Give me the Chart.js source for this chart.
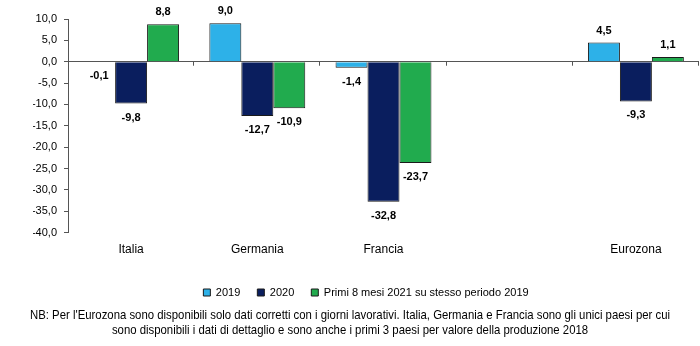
<!DOCTYPE html>
<html>
<head>
<meta charset="utf-8">
<script src="https://cdn.jsdelivr.net/npm/chart.js@4.4.0/dist/chart.umd.min.js"></script>
<style>
  html, body { margin: 0; padding: 0; background: #fff; }
  #wrap { width: 700px; height: 346px; }
</style>
</head>
<body>
<div id="wrap"><canvas id="chart"></canvas></div>
<script>
// categories (the empty slot keeps the gap before Eurozona)
const categories = ['Italia', 'Germania', 'Francia', '', 'Eurozona'];
const values2019 = [-0.1, 9.0, -1.4, null, 4.5];
const values2020 = [-9.8, -12.7, -32.8, null, -9.3];
const values2021 = [8.8, -10.9, -23.7, null, 1.1];
const seriesNames = ['2019', '2020', 'Primi 8 mesi 2021 su stesso periodo 2019'];
const yMin = -40, yMax = 10, yStep = 5;
const noteLines = [
  "NB: Per l'Eurozona sono disponibili solo dati corretti con i giorni lavorativi. Italia, Germania e Francia sono gli unici paesi per cui",
  "sono disponibili i dati di dettaglio e sono anche i primi 3 paesi per valore della produzione 2018"
];

const font = "'Liberation Sans', Arial, sans-serif";
const fmt = v => v.toFixed(1).replace('.', ',');

// value labels above/below each bar
const barLabels = {
  id: 'barLabels',
  afterDatasetsDraw(chart) {
    const ctx = chart.ctx;
    ctx.save();
    ctx.font = 'bold 11px ' + font;
    ctx.fillStyle = '#000';
    ctx.textAlign = 'center';
    ctx.textBaseline = 'middle';
    chart.data.datasets.forEach((ds, i) => {
      chart.getDatasetMeta(i).data.forEach((el, j) => {
        const v = ds.data[j];
        if (v == null) return;
        const y = v >= 0 ? el.y - 12 : el.y + 14;
        ctx.fillText(fmt(v), el.x, y);
      });
    });
    ctx.restore();
  }
};

// small ticks on the zero line between categories
const zeroTicks = {
  id: 'zeroTicks',
  afterDatasetsDraw(chart) {
    const xs = chart.scales.x, ys = chart.scales.y;
    const ctx = chart.ctx;
    const y0 = ys.getPixelForValue(0);
    const half = (xs.getPixelForValue(1) - xs.getPixelForValue(0)) / 2;
    ctx.save();
    ctx.strokeStyle = '#555';
    ctx.lineWidth = 1;
    for (let i = 0; i < categories.length; i++) {
      const x = Math.round(xs.getPixelForValue(i) + half) - 0.5;
      ctx.beginPath();
      ctx.moveTo(x, y0);
      ctx.lineTo(x, y0 + 4);
      ctx.stroke();
    }
    ctx.restore();
  }
};

// footnote under the legend, set in a condensed look
const footnote = {
  id: 'footnote',
  afterDraw(chart) {
    const ctx = chart.ctx;
    ctx.save();
    ctx.font = '13px ' + font;
    ctx.fillStyle = '#000';
    ctx.textAlign = 'center';
    ctx.textBaseline = 'middle';
    const sx = 640 / ctx.measureText(noteLines[0]).width;
    ctx.scale(sx, 1);
    const cx = chart.width / 2 / sx;
    ctx.fillText(noteLines[0], cx, chart.height - 31);
    ctx.fillText(noteLines[1], cx, chart.height - 16);
    ctx.restore();
  }
};

new Chart(document.getElementById('chart'), {
  type: 'bar',
  data: {
    labels: categories,
    datasets: [
      { label: seriesNames[0], data: values2019, backgroundColor: '#2DB1E8', borderColor: '#1a1a1a', borderWidth: 1 },
      { label: seriesNames[1], data: values2020, backgroundColor: '#0A1E5E', borderColor: '#1a1a1a', borderWidth: 1 },
      { label: seriesNames[2], data: values2021, backgroundColor: '#21AB4E', borderColor: '#1a1a1a', borderWidth: 1 }
    ]
  },
  options: {
    responsive: true,
    maintainAspectRatio: false,
    animation: false,
    datasets: { bar: { categoryPercentage: 0.76, barPercentage: 1.0 } },
    layout: { padding: { left: 33, right: 1, top: 19, bottom: 38 } },
    scales: {
      x: {
        grid: { display: false },
        border: { display: false },
        ticks: { color: '#000', font: { family: font, size: 12 }, padding: 2 },
        afterFit: s => { s.height += 11; }
      },
      y: {
        min: yMin, max: yMax,
        ticks: { stepSize: yStep, color: '#000', font: { family: font, size: 11 }, padding: 7, callback: v => fmt(v) },
        grid: {
          color: c => (c.tick && c.tick.value === 0 ? '#555' : 'rgba(0,0,0,0)'),
          tickColor: '#555', tickLength: 4, lineWidth: 1
        },
        border: { display: true, color: '#555' },
        afterFit: s => { s.width = 35; }
      }
    },
    plugins: {
      legend: {
        position: 'bottom',
        labels: { boxWidth: 7, boxHeight: 7, color: '#000', font: { family: font, size: 11 }, padding: 17 }
      },
      tooltip: { enabled: false }
    }
  },
  plugins: [barLabels, zeroTicks, footnote]
});
</script>
</body>
</html>
